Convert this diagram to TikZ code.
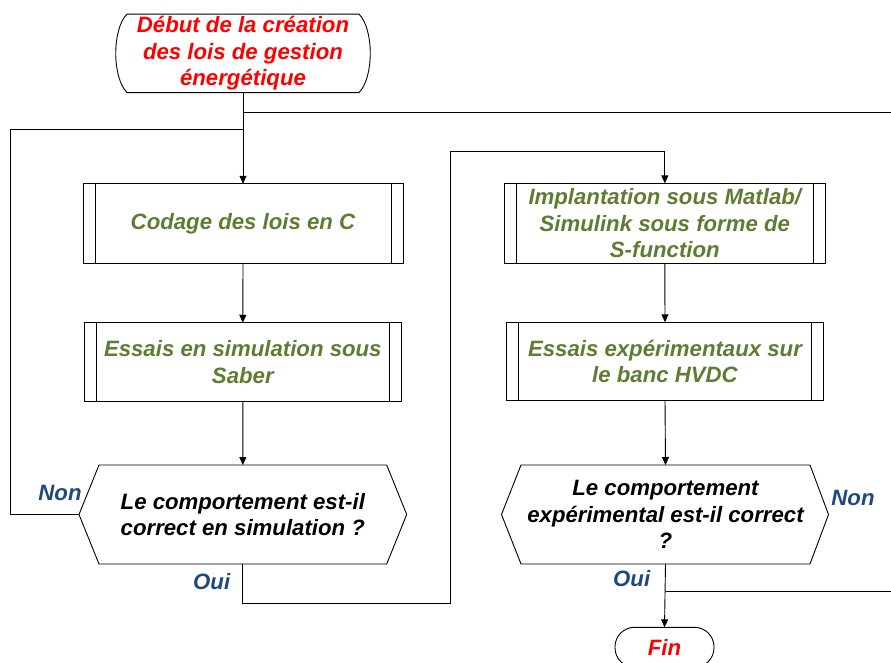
\documentclass[tikz,border=0pt]{standalone}
\usepackage{fontspec}
\setmainfont{Liberation Sans}
\usetikzlibrary{calc,arrows.meta}
\definecolor{txtgreen}{RGB}{94,125,50}
\definecolor{txtblue}{RGB}{31,73,125}
\definecolor{txtred}{RGB}{255,0,0}
\begin{document}
\begin{tikzpicture}[x=1pt,y=-1pt,
  line width=0.9pt,
  every node/.style={inner sep=0pt,outer sep=0pt,font=\fontsize{22.2}{26.5}\selectfont\bfseries\itshape,align=center},
  procbox/.style={draw,text=txtgreen},
  decbox/.style={text=black},
  lbl/.style={text=txtblue},
  conn/.style={-{Triangle[width=7pt,length=8pt]}},
  wire/.style={}
]
\useasboundingbox (0,0) rectangle (891,662);

% start terminator
\node[text=txtred,minimum width=232,minimum height=78.5] (start) at (243,53.3) {Début de la création\\des lois de gestion\\énergétique};
\draw (start.north west) -- (start.north east)
      .. controls ($(start.north east)+(15pt,-15pt)$) and ($(start.south east)+(15pt,15pt)$) .. (start.south east)
      -- (start.south west)
      .. controls ($(start.south west)+(-15pt,15pt)$) and ($(start.north west)+(-15pt,-15pt)$) .. (start.north west);

% process boxes
\node[procbox,minimum width=320,minimum height=79.5] (box1) at (243,223.5) {Codage des lois en C};
\node[procbox,minimum width=317.5,minimum height=78.5] (box2) at (242.8,362) {Essais en simulation sous\\Saber};
\node[procbox,minimum width=321.7,minimum height=80] (box3) at (664.8,223.3) {Implantation sous Matlab/\\Simulink sous forme de\\S-function};
\node[procbox,minimum width=316.6,minimum height=78.4] (box4) at (665,361.5) {Essais expérimentaux sur\\le banc HVDC};
\foreach \b in {box1,box2,box3,box4}{
  \draw ($(\b.north west)+(12pt,0)$) -- ($(\b.south west)+(12pt,0)$);
  \draw ($(\b.north east)+(-12pt,0)$) -- ($(\b.south east)+(-12pt,0)$);
}

% decisions
\node[decbox,minimum width=287.7,minimum height=99] (hex1) at (242.85,514.5) {Le comportement est-il\\correct en simulation ?};
\coordinate (hex1W) at ($(hex1.west)+(-20pt,0)$);
\coordinate (hex1E) at ($(hex1.east)+(20pt,0)$);
\draw (hex1.north west) -- (hex1.north east) -- (hex1E) -- (hex1.south east) -- (hex1.south west) -- (hex1W) -- cycle;

\node[decbox,minimum width=289,minimum height=99] (hex2) at (665.5,514.5) {Le comportement\\expérimental est-il correct\\?};
\coordinate (hex2W) at ($(hex2.west)+(-19.5pt,0)$);
\coordinate (hex2E) at ($(hex2.east)+(18.5pt,0)$);
\draw (hex2.north west) -- (hex2.north east) -- (hex2E) -- (hex2.south east) -- (hex2.south west) -- (hex2W) -- cycle;

% end terminator
\node[draw,text=txtred,rounded corners=19.5pt,minimum width=99,minimum height=40] (fin) at (664.5,647.3) {Fin};

% labels
\node[lbl] (non1) at (60,493.3) {Non};
\node[lbl] (oui1) at (211.7,581.7) {Oui};
\node[lbl] (non2) at (853,498.3) {Non};
\node[lbl] (oui2) at (631.7,579) {Oui};

% helper coordinates
\coordinate (j0) at (243,112.3);
\coordinate (r0) at (891,112.3);
\coordinate (j1) at (243,129.3);
\coordinate (lx) at (10.7,129.3);
\coordinate (o1) at (450.7,603.3);
\coordinate (o2) at (450.7,151.7);
\coordinate (j2) at (665.5,591.7);
\coordinate (r2) at (891,591.7);

% connectors
\draw[conn] (start.south) -- (box1.north);
\draw[wire] (j0) -- (r0);
\draw[wire] (hex1W) -| (lx) -- (j1);
\draw[conn] (box1.south) -- (box2.north);
\draw[conn] (box2.south) -- (hex1.north);
\draw[conn] (hex1.south) |- (o1) -- (o2) -| (box3.north);
\draw[conn] (box3.south) -- (box4.north);
\draw[conn] (box4.south) -- (hex2.north);
\draw[conn] (hex2.south) -- (fin.north);
\draw[wire] (j2) -- (r2);
\end{tikzpicture}
\end{document}
